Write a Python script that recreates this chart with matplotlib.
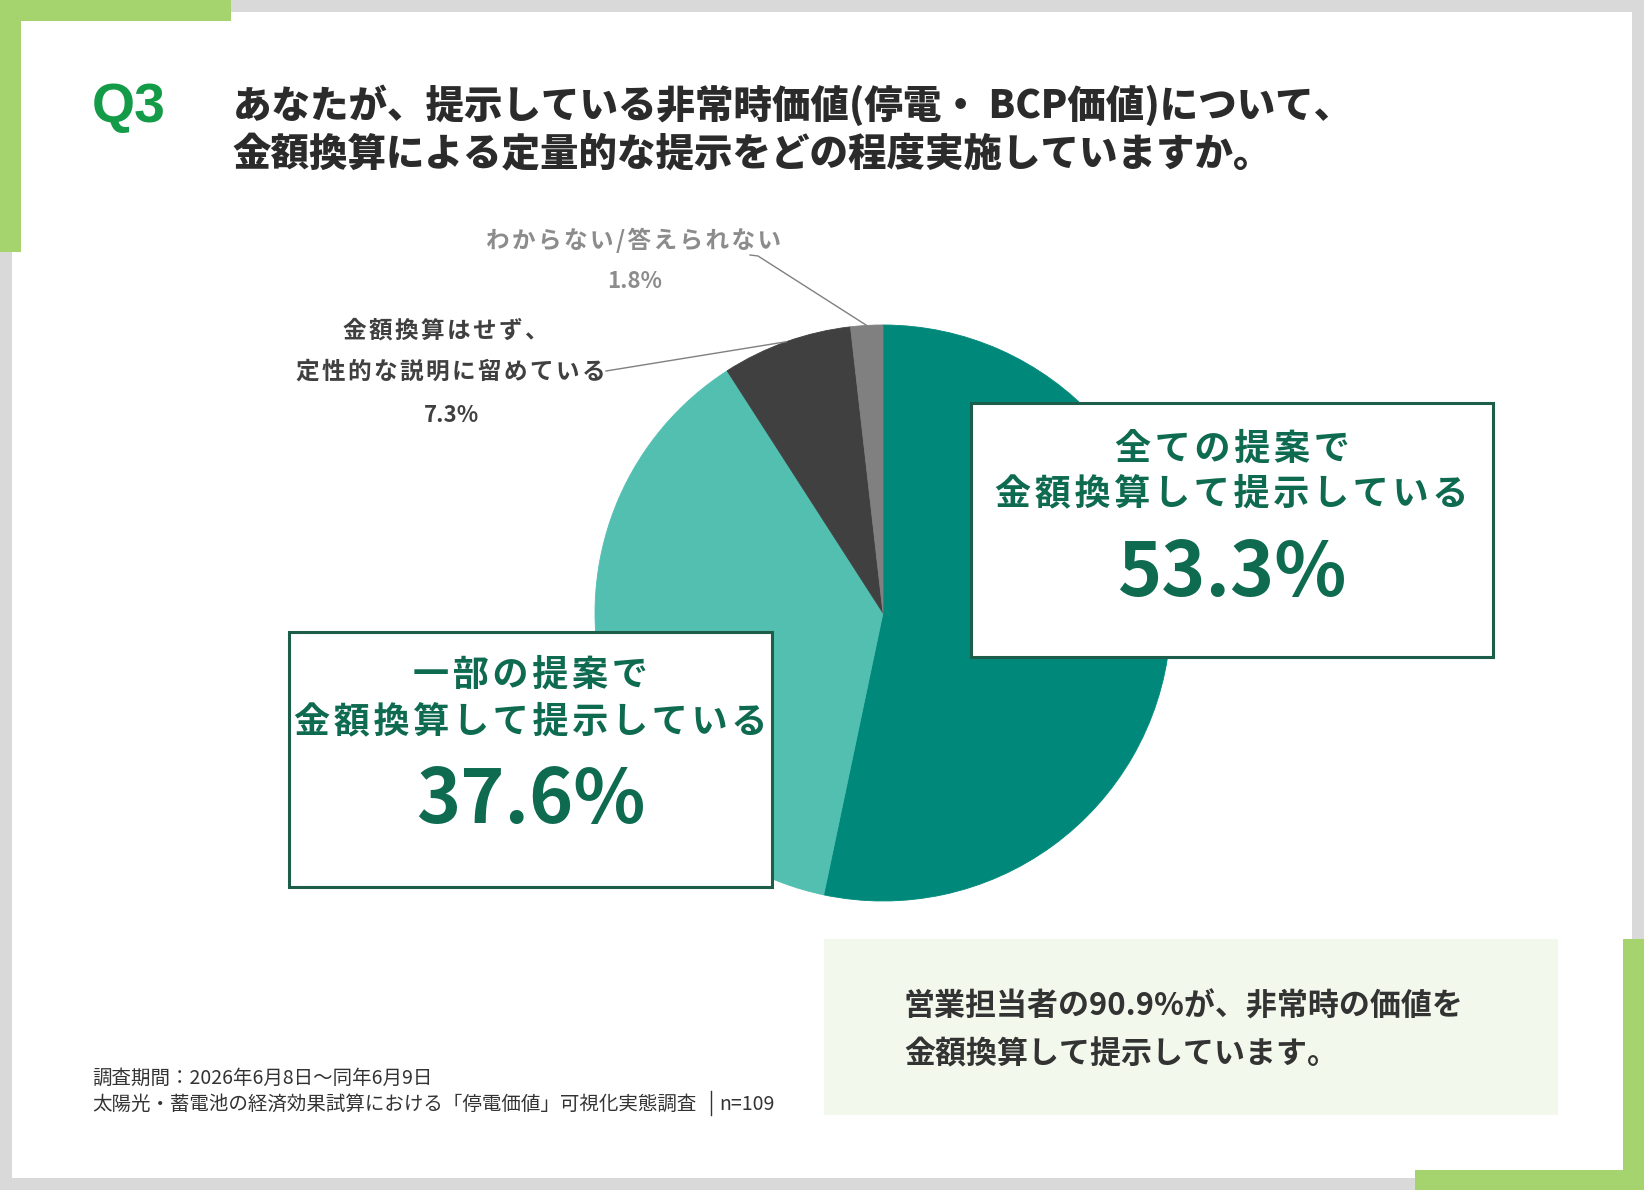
import matplotlib
matplotlib.use('Agg')
import matplotlib.pyplot as plt
from matplotlib.patches import Rectangle
import numpy as np

plt.rcParams['font.family'] = ['Noto Sans CJK JP', 'DejaVu Sans']

# ---- data ----
categories = ['全ての提案で金額換算して提示している',
              '一部の提案で金額換算して提示している',
              '金額換算はせず、定性的な説明に留めている',
              'わからない/答えられない']
shares = [53.3, 37.6, 7.3, 1.8]
slice_colors = ['#00897a', '#52bfb1', '#404040', '#808080']
n_resp = 109

title_q = 'Q3'
title_lines = ['あなたが、提示している非常時価値(停電・ BCP価値)について、',
               '金額換算による定量的な提示をどの程度実施していますか。']
box1_lines = ['全ての提案で', '金額換算して提示している']
box2_lines = ['一部の提案で', '金額換算して提示している']
label3_lines = ['金額換算はせず、', '定性的な説明に留めている']
label4_line = 'わからない/答えられない'
summary_lines = ['営業担当者の90.9%が、非常時の価値を', '金額換算して提示しています。']
note_lines = ['調査期間：2026年6月8日～同年6月9日',
              '太陽光・蓄電池の経済効果試算における「停電価値」可視化実態調査']

W, H = 1644, 1190
GREEN = '#a5d36e'
BOX_TXT = '#0f6b50'
DARK = '#2b2b2b'


def spaced(s, gap='\u200a'):
    # slight letter spacing like the original slide
    return gap.join(s)


fig = plt.figure(figsize=(W / 100, H / 100), dpi=100)
fig.patch.set_facecolor('#d9d9d9')

bg = fig.add_axes([0, 0, 1, 1])
bg.set_xlim(0, W)
bg.set_ylim(H, 0)
bg.axis('off')

# frame
bg.add_patch(Rectangle((12, 12), W - 24, H - 24, color='white', lw=0))
bg.add_patch(Rectangle((0, 0), 231, 21, color=GREEN, lw=0))
bg.add_patch(Rectangle((0, 0), 21, 252, color=GREEN, lw=0))
bg.add_patch(Rectangle((W - 21, 939), 21, H - 939, color=GREEN, lw=0))
bg.add_patch(Rectangle((1415, H - 20), W - 1415, 20, color=GREEN, lw=0))

# title
bg.text(92, 108, title_q, family='Liberation Sans', fontweight='bold',
        fontsize=40, color='#139b48', ha='left', va='center')
bg.text(233, 105, title_lines[0], fontsize=27.7, fontweight='heavy', color=DARK,
        ha='left', va='center')
bg.text(233, 155, title_lines[1], fontsize=27.7, fontweight='heavy', color=DARK,
        ha='left', va='center')

# pie
cx, cy, r = 883, 613, 288
axp = fig.add_axes([(cx - r) / W, 1 - (cy + r) / H, 2 * r / W, 2 * r / H])
wedges, _ = axp.pie(shares, colors=slice_colors, startangle=90,
                    counterclock=False, radius=1)
for w in wedges:
    w.set_edgecolor(w.get_facecolor())
    w.set_linewidth(0.6)
axp.set_xlim(-1, 1)
axp.set_ylim(-1, 1)
axp.axis('off')

# overlay for boxes and labels
top = fig.add_axes([0, 0, 1, 1])
top.set_xlim(0, W)
top.set_ylim(H, 0)
top.axis('off')
top.patch.set_alpha(0)

vals = np.array(shares)
cum = np.cumsum(np.r_[0, vals[:-1]])
mid = np.radians(90 - 360 * (cum + vals / 2) / vals.sum())
edge_x = cx + r * np.cos(mid)
edge_y = cy - r * np.sin(mid)

# leader lines
top.plot([750, 758, edge_x[3]], [255, 256, edge_y[3]], color='#808080', lw=1)
top.plot([606, edge_x[2]], [371, edge_y[2]], color='#808080', lw=1)

# outside labels
top.text(634, 240, spaced(label4_line), fontsize=17, fontweight='bold',
         color='#8c8c8c', ha='center', va='center')
top.text(635, 282, f'{shares[3]:.1f}%', fontsize=16, fontweight='bold',
         color='#8c8c8c', ha='center', va='center')
top.text(446, 331, spaced(label3_lines[0]), fontsize=17, fontweight='bold',
         color='#404040', ha='center', va='center')
top.text(451, 372, spaced(label3_lines[1]), fontsize=17, fontweight='bold',
         color='#404040', ha='center', va='center')
top.text(451, 416, f'{shares[2]:.1f}%', fontsize=16, fontweight='bold',
         color='#404040', ha='center', va='center')


def callout(x0, y0, x1, y1, lines, pct, ys, base):
    top.add_patch(Rectangle((x0, y0), x1 - x0, y1 - y0, facecolor='white',
                            edgecolor='#1d5e4a', lw=2.2, zorder=3))
    xc = (x0 + x1) / 2
    for s, yy in zip(lines, ys):
        top.text(xc, yy, spaced(s), fontsize=26, fontweight='bold',
                 color=BOX_TXT, ha='center', va='center', zorder=4)
    top.text(xc, base, f'{pct:.1f}%', fontsize=54, fontweight='bold',
             color=BOX_TXT, ha='center', va='baseline', zorder=4)


callout(971, 403, 1493, 657, box1_lines, shares[0], [449, 494], 596)
callout(289, 632, 772, 887, box2_lines, shares[1], [675, 722], 823)

# summary box
top.add_patch(Rectangle((824, 939), 734, 176, color='#f2f8ec', lw=0))
top.text(904, 1007, summary_lines[0], fontsize=22.3, fontweight='bold',
         color='#333333', ha='left', va='center')
top.text(904, 1054, summary_lines[1], fontsize=22.3, fontweight='bold',
         color='#333333', ha='left', va='center')

# footnote
top.text(92, 1078, note_lines[0], fontsize=14, color='#333333',
         ha='left', va='center')
top.text(92, 1104, note_lines[1], fontsize=14, color='#333333',
         ha='left', va='center')
top.plot([711, 711], [1091, 1115], color='#333333', lw=1)
top.text(719, 1104, f'n={n_resp}', fontsize=14, color='#333333',
         ha='left', va='center')

plt.savefig('out.png', dpi=100, facecolor=fig.get_facecolor())
